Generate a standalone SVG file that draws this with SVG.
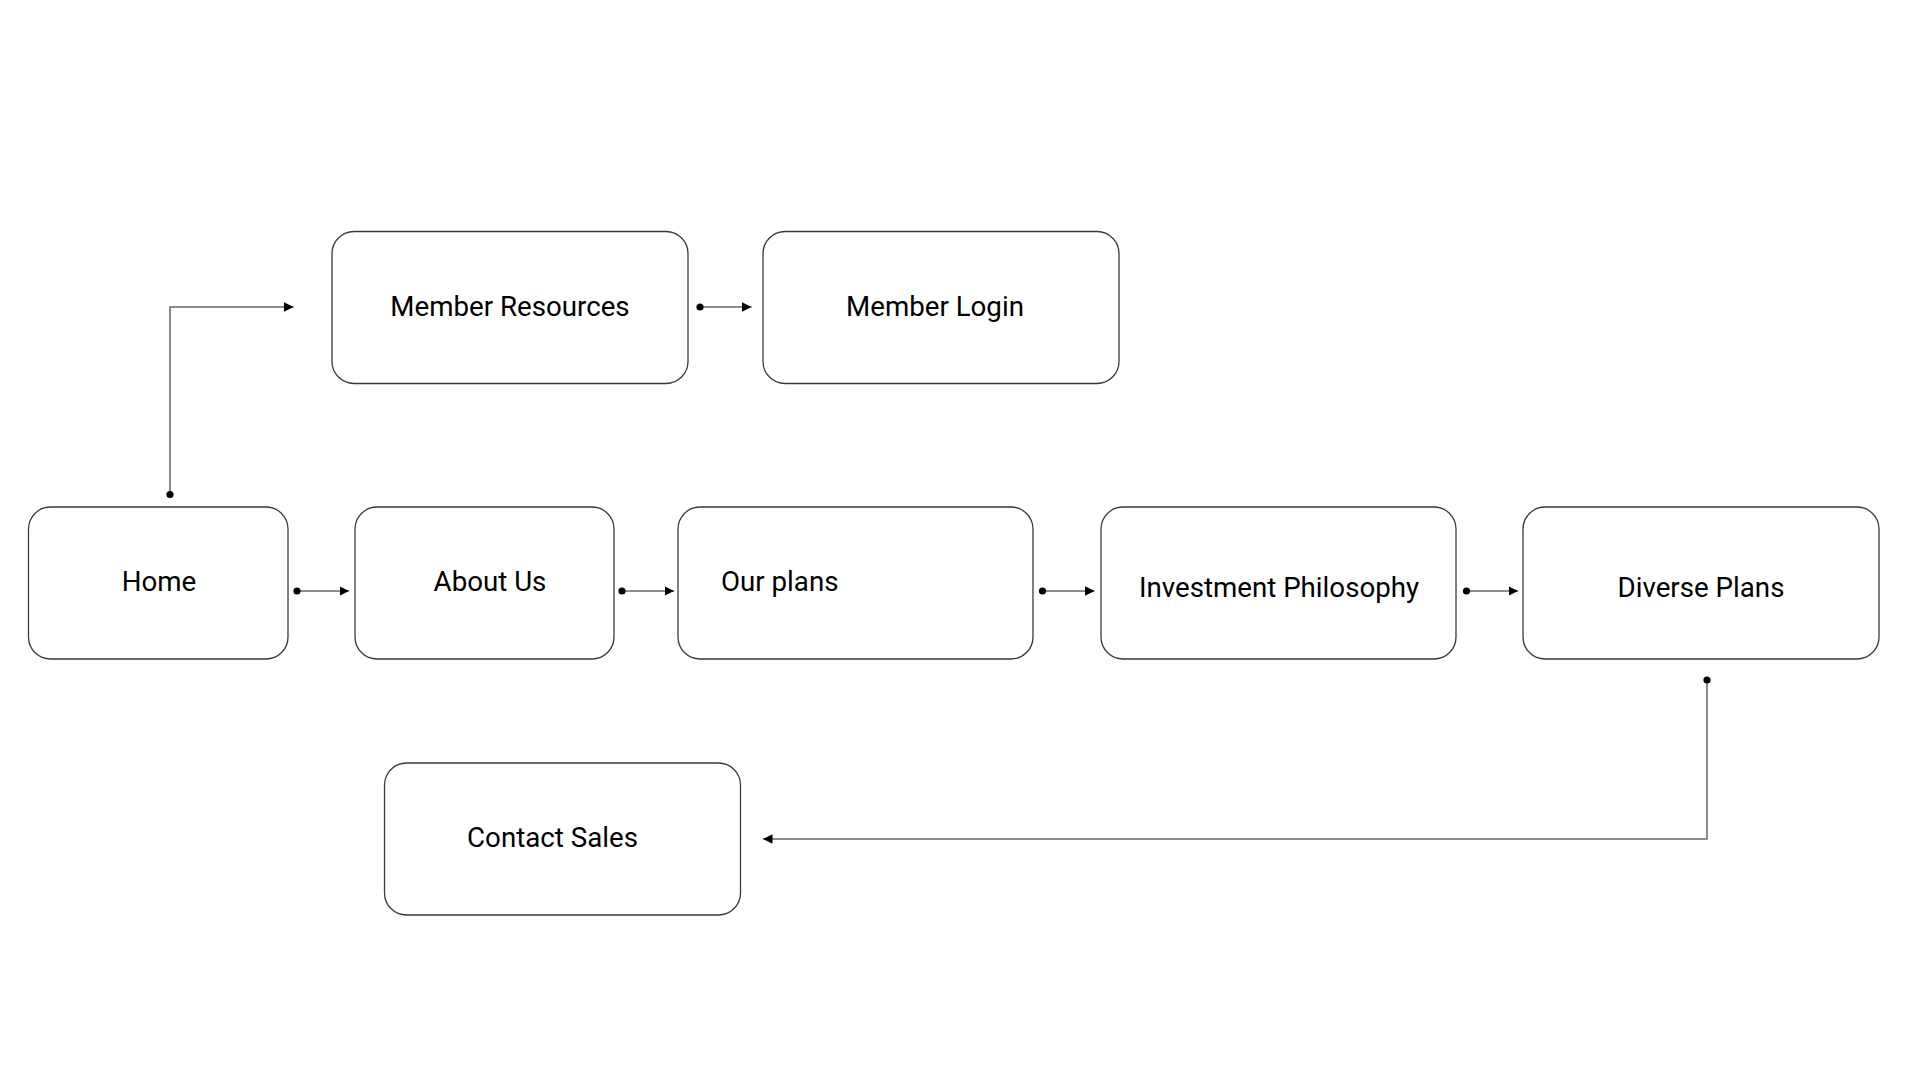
<svg xmlns="http://www.w3.org/2000/svg" width="1920" height="1081" viewBox="0 0 1920 1081">
<style>
.node rect{fill:#fff;stroke:#3a3a3a;stroke-width:1.3}
.node text{font-family:Roboto,"Liberation Sans",sans-serif;font-size:27.7px;fill:#000}
.edge{fill:none;stroke:#666;stroke-width:1.5}
.dot{fill:#000}
</style>
<defs>
<marker id="arrow" viewBox="0 0 10 10" refX="10" refY="5" markerWidth="9.5" markerHeight="9.5" markerUnits="userSpaceOnUse" orient="auto">
<path d="M0,0 L10,5 L0,10 Z" fill="#000"/>
</marker>
</defs>
<rect width="1920" height="1081" fill="#fff"/>
<g id="connectors">
<path class="edge" d="M170,494.5 V307 H293.5" marker-end="url(#arrow)"/>
<circle class="dot" cx="170" cy="494.5" r="3.6"/>
<path class="edge" d="M700,307 H751.5" marker-end="url(#arrow)"/>
<circle class="dot" cx="700" cy="307" r="3.6"/>
<path class="edge" d="M297,591 H349" marker-end="url(#arrow)"/>
<circle class="dot" cx="297" cy="591" r="3.6"/>
<path class="edge" d="M622,591 H674" marker-end="url(#arrow)"/>
<circle class="dot" cx="622" cy="591" r="3.6"/>
<path class="edge" d="M1042.5,591 H1094.5" marker-end="url(#arrow)"/>
<circle class="dot" cx="1042.5" cy="591" r="3.6"/>
<path class="edge" d="M1466.5,591 H1518" marker-end="url(#arrow)"/>
<circle class="dot" cx="1466.5" cy="591" r="3.6"/>
<path class="edge" d="M1707,680 V839 H763" marker-end="url(#arrow)"/>
<circle class="dot" cx="1707" cy="680" r="3.6"/>
</g>
<g id="member-resources" class="node">
<rect x="332" y="231.5" width="356" height="152" rx="22"/>
<text x="510" y="316" text-anchor="middle">Member Resources</text>
</g>
<g id="member-login" class="node">
<rect x="763" y="231.5" width="356" height="152" rx="22"/>
<text x="935" y="316" text-anchor="middle">Member Login</text>
</g>
<g id="home" class="node">
<rect x="28.5" y="507" width="259.5" height="152" rx="22"/>
<text x="159" y="591" text-anchor="middle">Home</text>
</g>
<g id="about-us" class="node">
<rect x="355" y="507" width="259" height="152" rx="22"/>
<text x="490" y="591" text-anchor="middle">About Us</text>
</g>
<g id="our-plans" class="node">
<rect x="678" y="507" width="355" height="152" rx="22"/>
<text x="721" y="591">Our plans</text>
</g>
<g id="investment-philosophy" class="node">
<rect x="1101" y="507" width="355" height="152" rx="22"/>
<text x="1279" y="597" text-anchor="middle">Investment Philosophy</text>
</g>
<g id="diverse-plans" class="node">
<rect x="1523" y="507" width="356" height="152" rx="22"/>
<text x="1701" y="597" text-anchor="middle">Diverse Plans</text>
</g>
<g id="contact-sales" class="node">
<rect x="384.5" y="763" width="356" height="152" rx="22"/>
<text x="552.5" y="847" text-anchor="middle">Contact Sales</text>
</g>
</svg>
